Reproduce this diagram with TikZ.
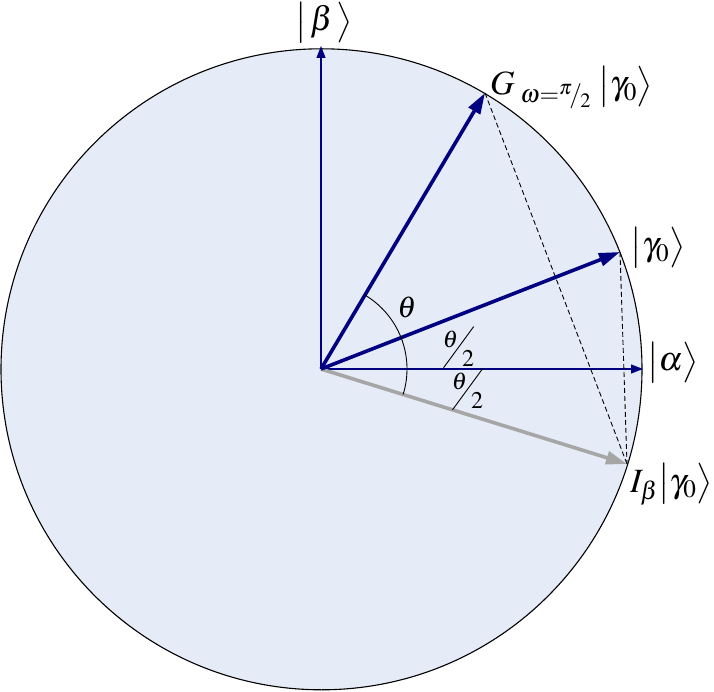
\documentclass[tikz,border=0pt]{standalone}
\usepackage{mathptmx}
\usepackage{graphicx}
\usetikzlibrary{arrows.meta}
\definecolor{fillc}{HTML}{E6ECF7}
\definecolor{navy}{HTML}{000080}
\definecolor{grayv}{HTML}{A6A6A6}
\newcommand\slantfrac[2]{\rotatebox{53.8}{\rule{51pt}{0.9pt}}\llap{\raisebox{20pt}{$#1$}\hspace{16pt}}\llap{\raisebox{1pt}{$#2$}\hspace{0pt}}}
\newcommand\ket[1]{\big\vert#1\big\rangle}
\begin{document}
\begin{tikzpicture}[x=1pt,y=1pt,
  thickvec/.style={line width=3.6pt, -{Triangle[length=21pt,width=13pt]}},
  axisvec/.style={navy, line width=1.2pt, -{Triangle[length=12pt,width=9pt]}},
  lbl/.style={inner sep=0pt, font=\fontsize{34}{40}\selectfont},
  anglbl/.style={inner sep=0pt, font=\fontsize{30}{34}\selectfont},
  fraclbl/.style={inner sep=0pt, anchor=base west, font=\fontsize{24}{28}\selectfont},
  guide/.style={line width=0.9pt, dash pattern=on 5pt off 3pt}
]
\useasboundingbox (0,0) rectangle (714,691);
\node[circle, draw, fill=fillc, minimum size=641pt, inner sep=0pt, line width=1.1pt] (circ) at (321.5,321.7) {};
\coordinate (O) at (321,322);
\coordinate (B) at (321,645);
\coordinate (A) at (643,322);
\coordinate (G) at (485,598);
\coordinate (C) at (620,439);
\coordinate (I) at (627,227);
% axes
\draw[axisvec] (O) -- (B);
\draw[axisvec] (O) -- (A);
% dashed guides
\draw[guide] (G) -- (I);
\draw[guide] (C) -- (I);
% vectors
\draw[thickvec, grayv] (O) -- (I);
\draw[thickvec, navy] (O) -- (G);
\draw[thickvec, navy] (O) -- (C);
% angle arc
\draw[line width=0.9pt] (O) ++(59.3:86) arc[start angle=59.3, end angle=-17.2, radius=86];
% labels
\node[lbl, anchor=base] (lb) at (324,660) {$\ket{\,\beta\,}$};
\node[lbl, anchor=base west] (lg) at (490,596) {$G_{\;\omega=\raisebox{.22em}{$\scriptscriptstyle\pi$}\kern-.08em/\kern-.05em\raisebox{-.15em}{$\scriptscriptstyle 2$}}\;\ket{\gamma_0}$};
\node[lbl, anchor=base] (lc) at (658,435) {$\ket{\gamma_0}$};
\node[lbl, anchor=base] (la) at (673,320) {$\ket{\alpha}$};
\node[lbl, anchor=base west] (li) at (630,199) {$I_\beta\ket{\gamma_0}$};
\node[anglbl] (lt) at (407,384) {$\theta$};
\node[fraclbl] (lf1) at (443,323) {\slantfrac{\theta}{2}};
\node[fraclbl] (lf2) at (452,281) {\slantfrac{\theta}{2}};
\end{tikzpicture}
\end{document}
